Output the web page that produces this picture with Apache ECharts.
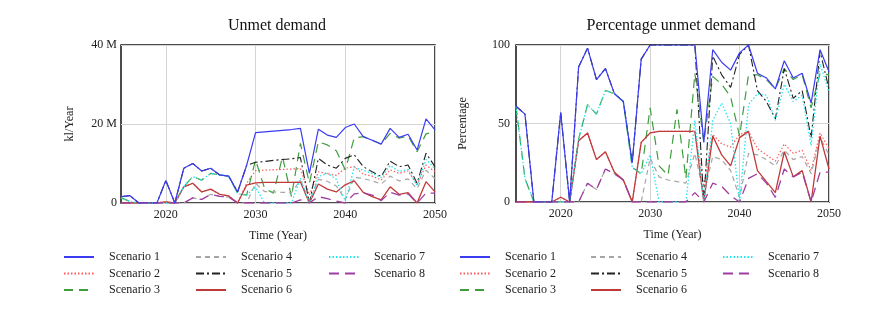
<!DOCTYPE html>
<html><head><meta charset="utf-8">
<script src="https://cdn.jsdelivr.net/npm/echarts@6/dist/echarts.min.js"></script>
<style>html,body{margin:0;padding:0;background:#fff}#c{width:884px;height:316px}</style>
</head><body><div id="c"></div>
<script>
const years = [];
for (let y = 2015; y <= 2050; y++) years.push(String(y));
const scenarioNames = ['Scenario 1','Scenario 2','Scenario 3','Scenario 4','Scenario 5','Scenario 6','Scenario 7','Scenario 8'];
const leftTicks = ['0', '20 M', '40 M'];
const rightTicks = ['0', '50', '100'];

// Unmet demand (million kl/Year)
const unmet1 = [1.6,1.85,0,0,0,5.7,0,8.8,10.0,8.1,8.8,7.1,6.8,2.8,9.5,17.8,18.0,18.2,18.4,18.6,18.9,7.5,18.7,17.2,16.6,19.1,20.0,16.8,15.9,14.9,18.9,16.6,17.4,13.4,21.3,18.5];
const unmet2 = [0,0,0,0,0,0.3,0,4.1,5.0,2.8,3.5,2.2,1.8,0,5.0,8.2,8.3,8.4,8.5,8.6,8.7,2.0,7.9,7.4,7.0,8.8,9.2,7.3,6.8,5.8,8.4,7.5,8.1,4.6,9.6,7.9];
const unmet3 = [1.3,0.4,0,0,0,0,0,4.1,6.7,5.8,7.5,7.1,6.8,2.4,2.0,10.9,3.7,2.5,11.7,1.6,15.1,5.0,15.5,14.7,13.2,8.4,16.5,16.8,15.9,14.9,17.6,16.4,17.0,13.0,17.5,18.0];
const unmet4 = [0,0,0,0,0,0,0,0,1.3,0.9,2.2,1.7,1.5,0,0,5.0,2.9,2.8,2.7,2.6,5.8,0.5,6.0,5.5,4.3,0.8,6.5,6.2,5.6,4.8,6.8,5.6,6.1,3.6,8.3,6.2];
const unmet5 = [1.6,1.85,0,0,0,5.7,0,8.8,10.0,8.1,8.8,7.1,6.8,2.8,9.5,10.3,10.5,10.8,11.0,11.2,11.5,0,11.3,9.6,8.8,11.3,12.2,9.2,7.9,6.7,10.6,9.2,9.6,5.0,12.6,9.2];
const unmet6 = [0,0,0,0,0,0.3,0,4.1,5.0,2.8,3.5,2.2,1.8,0,4.5,5.1,5.2,5.2,5.2,5.2,5.3,0,4.8,3.5,2.8,4.6,5.6,2.7,1.6,0.8,4.1,2.2,2.6,0,5.4,2.8];
const unmet7 = [1.3,0.4,0,0,0,0,0,4.1,6.7,5.8,7.5,7.1,6.8,2.4,2.0,4.0,0,0,0,0,6.3,0,6.7,7.5,6.0,0.5,9.0,8.3,7.5,6.4,9.5,8.0,8.5,4.5,11.0,8.7];
const unmet8 = [0,0,0,0,0,0,0,0,1.3,0.9,2.2,1.7,1.5,0,0,0,0,0,0,0,0.8,0,1.6,1.1,0.5,0,2.3,2.6,2.0,0.6,2.7,2.0,2.3,0,2.5,2.5];

// Percentage unmet demand
const pct1 = [61,56,0,0,0,57,0,86,98,78,85,69,64,25,91,100,100,100,100,100,100,38,97,89,84,95,100,82,79,72,90,79,82,63,97,83];
const pct2 = [0,0,0,0,0,3,0,39,44,27,32,19,14,0,38,44,45,45,45,45,45,10,43,37,35,43,45,34,30,26,37,31,33,20,44,34];
const pct3 = [61,15,0,0,0,0,0,40,62,56,71,69,64,22,18,60,23,17,59,15,82,38,80,75,67,42,81,81,78,72,85,78,81,60,82,81];
const pct4 = [0,0,0,0,0,0,0,0,12,8,21,18,14,0,0,28,16,14,13,12,31,5,29,27,20,3,31,30,27,23,33,27,29,18,41,30];
const pct5 = [61,56,0,0,0,57,0,86,98,78,85,69,64,25,91,100,100,100,100,100,100,0,93,81,73,94,100,71,64,53,85,66,71,41,96,72];
const pct6 = [0,0,0,0,0,3,0,39,44,27,32,19,14,0,38,44,45,45,45,45,45,0,42,30,23,41,45,20,13,6,32,16,20,0,42,21];
const pct7 = [61,15,0,0,0,0,0,40,62,56,71,69,64,22,18,30,0,0,0,0,52,0,52,63,50,0,62,69,68,52,75,64,68,36,88,70];
const pct8 = [0,0,0,0,0,0,0,0,12,8,21,18,14,0,0,0,0,0,0,0,6,0,12,10,4,0,15,18,12,3,21,16,19,0,19,19];

const unmetAll = [unmet1,unmet2,unmet3,unmet4,unmet5,unmet6,unmet7,unmet8];
const pctAll = [pct1,pct2,pct3,pct4,pct5,pct6,pct7,pct8];

const styles = [
  {color:'#3b3bf2', type:'solid', width:1.2},
  {color:'#ff5a5a', type:[1.5,2], width:1.2},
  {color:'#3e9e3e', type:[9,6], width:1.2},
  {color:'#a6a6a6', type:[5,4], width:1.2},
  {color:'#222222', type:[8,3,2,3], width:1.1},
  {color:'#c03a3a', type:'solid', width:1.3},
  {color:'#22e6f0', type:[1.5,2], width:1.3},
  {color:'#a03ca0', type:[10,6], width:1.3}
];

const FONT = 'Liberation Serif';
const isDecade = (i) => Number(years[i]) % 10 === 0;

function xAxis(gi){
  return {
    type:'category', gridIndex:gi, data:years, boundaryGap:false,
    name:'Time (Year)', nameLocation:'middle', nameGap:27,
    nameTextStyle:{fontFamily:FONT, fontSize:12, color:'#222'},
    axisLine:{show:false}, axisTick:{show:false},
    axisLabel:{interval:(i)=>isDecade(i), fontFamily:FONT, fontSize:12, color:'#222', margin:6},
    splitLine:{show:true, interval:(i)=>isDecade(i), lineStyle:{color:'#d4d4d4', width:1}}
  };
}

const option = {
  animation:false,
  backgroundColor:'#fff',
  title:[
    {text:'Unmet demand', left:277, top:18, padding:0, textAlign:'center',
     textStyle:{fontFamily:FONT, fontSize:16, fontWeight:'normal', color:'#111'}},
    {text:'Percentage unmet demand', left:671, top:18, padding:0, textAlign:'center',
     textStyle:{fontFamily:FONT, fontSize:16, fontWeight:'normal', color:'#111'}}
  ],
  grid:[
    {left:121, top:45, width:314, height:158, show:true, borderColor:'#111', borderWidth:1.5, backgroundColor:'transparent'},
    {left:516, top:45, width:313, height:157, show:true, borderColor:'#111', borderWidth:1.5, backgroundColor:'transparent'}
  ],
  xAxis:[xAxis(0), xAxis(1)],
  yAxis:[
    {type:'value', gridIndex:0, min:0, max:40, interval:20,
     name:'kl/Year', nameLocation:'middle', nameGap:45,
     nameTextStyle:{fontFamily:FONT, fontSize:12, color:'#222'},
     axisLine:{show:false}, axisTick:{show:false},
     axisLabel:{fontFamily:FONT, fontSize:12, color:'#222', margin:4,
       formatter:(v)=>leftTicks[Math.round(v/20)]},
     splitLine:{show:true, lineStyle:{color:'#d4d4d4'}}},
    {type:'value', gridIndex:1, min:0, max:100, interval:50,
     name:'Percentage', nameLocation:'middle', nameGap:47,
     nameTextStyle:{fontFamily:FONT, fontSize:12, color:'#222'},
     axisLine:{show:false}, axisTick:{show:false},
     axisLabel:{fontFamily:FONT, fontSize:12, color:'#222', margin:6,
       formatter:(v)=>rightTicks[Math.round(v/50)]},
     splitLine:{show:true, lineStyle:{color:'#d4d4d4'}}}
  ],
  legend:[],
  series:[]
};

const legendLefts = [[63,195,328],[459,590,722]];
legendLefts.forEach((lefts)=>{
  lefts.forEach((lx, ci)=>{
    option.legend.push({
      orient:'vertical', left:lx, top:251, padding:0, itemWidth:30, itemHeight:14, itemGap:4.5,
      selectedMode:false,
      itemStyle:{opacity:0, borderWidth:0},
      data: (ci===0?[0,1,2]:ci===1?[3,4,5]:[6,7]).map(k=>scenarioNames[k]),
      textStyle:{fontFamily:FONT, fontSize:12, color:'#222', padding:[0,0,0,10]}
    });
  });
});

for (let k = 0; k < 8; k++){
  const st = styles[k];
  const z = k === 0 ? 4 : 2;
  option.series.push({
    name:scenarioNames[k], type:'line', xAxisIndex:0, yAxisIndex:0, z:z,
    data:unmetAll[k], symbol:'none', showSymbol:false,
    lineStyle:{color:st.color, type:st.type, width:st.width}, itemStyle:{color:st.color}
  });
  option.series.push({
    name:scenarioNames[k], type:'line', xAxisIndex:1, yAxisIndex:1, z:z,
    data:pctAll[k], symbol:'none', showSymbol:false,
    lineStyle:{color:st.color, type:st.type, width:st.width}, itemStyle:{color:st.color}
  });
}

const chart = echarts.init(document.getElementById('c'), null, {renderer:'canvas'});
chart.setOption(option);
</script>
</body></html>
